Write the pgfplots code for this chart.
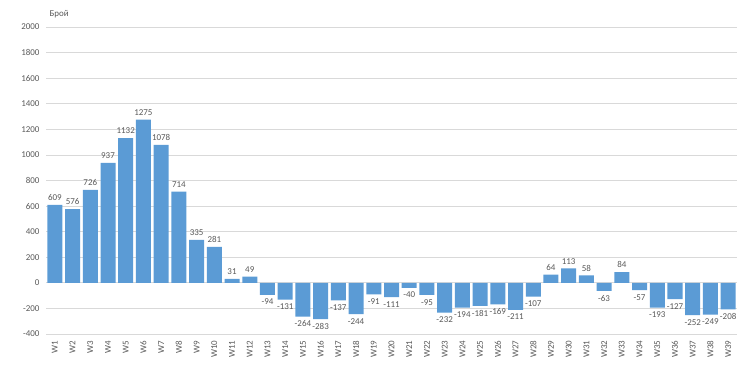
\documentclass[border=0pt]{standalone}
\usepackage{pgfplots}
\pgfplotsset{compat=1.18}
\usepackage{fontspec}
\setmainfont{Carlito}
\definecolor{barblue}{HTML}{5B9BD5}
\definecolor{txtgray}{HTML}{595959}
\definecolor{gridgray}{HTML}{D9D9D9}
\pgfplotstableread{
x lab val
0 W1 609
1 W2 576
2 W3 726
3 W4 937
4 W5 1132
5 W6 1275
6 W7 1078
7 W8 714
8 W9 335
9 W10 281
10 W11 31
11 W12 49
12 W13 -94
13 W14 -131
14 W15 -264
15 W16 -283
16 W17 -137
17 W18 -244
18 W19 -91
19 W20 -111
20 W21 -40
21 W22 -95
22 W23 -232
23 W24 -194
24 W25 -181
25 W26 -169
26 W27 -211
27 W28 -107
28 W29 64
29 W30 113
30 W31 58
31 W32 -63
32 W33 84
33 W34 -57
34 W35 -193
35 W36 -127
36 W37 -252
37 W38 -249
38 W39 -208
}\datatable
\begin{document}
\begin{tikzpicture}[x=1bp,y=1bp]
\path[use as bounding box] (0,0) rectangle (740,370);
\begin{axis}[
  at={(46bp,36bp)}, anchor=south west,
  scale only axis, width=691bp, height=307bp,
  ybar, bar width=15bp,
  xmin=-0.5, xmax=38.5,
  ymin=-400, ymax=2000,
  ytick={-400,-200,...,2000},
  xtick=data,
  xticklabels from table={\datatable}{lab},
  axis line style={draw=none},
  major tick length=0pt,
  ymajorgrids, grid style={gridgray, line width=0.8pt},
  /pgf/number format/assume math mode=true,
  /pgf/number format/1000 sep={},
  tick label style={font=\fontsize{9}{10}\selectfont, text=txtgray},
  x tick label style={rotate=90, anchor=east, xshift=0pt},
  xticklabel shift=3bp,
  yticklabel shift=3bp,
  nodes near coords,
  nodes near coords style={font=\fontsize{9}{10}\selectfont, text=txtgray, inner sep=4bp, /pgf/number format/1000 sep={}, /pgf/number format/assume math mode=true},
  clip=false,
]
\addplot[fill=barblue, draw=none] table[x=x, y=val] {\datatable};
\node[anchor=west, font=\fontsize{9}{10}\selectfont, text=txtgray] at (rel axis cs:0,1) [yshift=13bp, xshift=0bp] {Брой};
\end{axis}
\end{tikzpicture}
\end{document}
